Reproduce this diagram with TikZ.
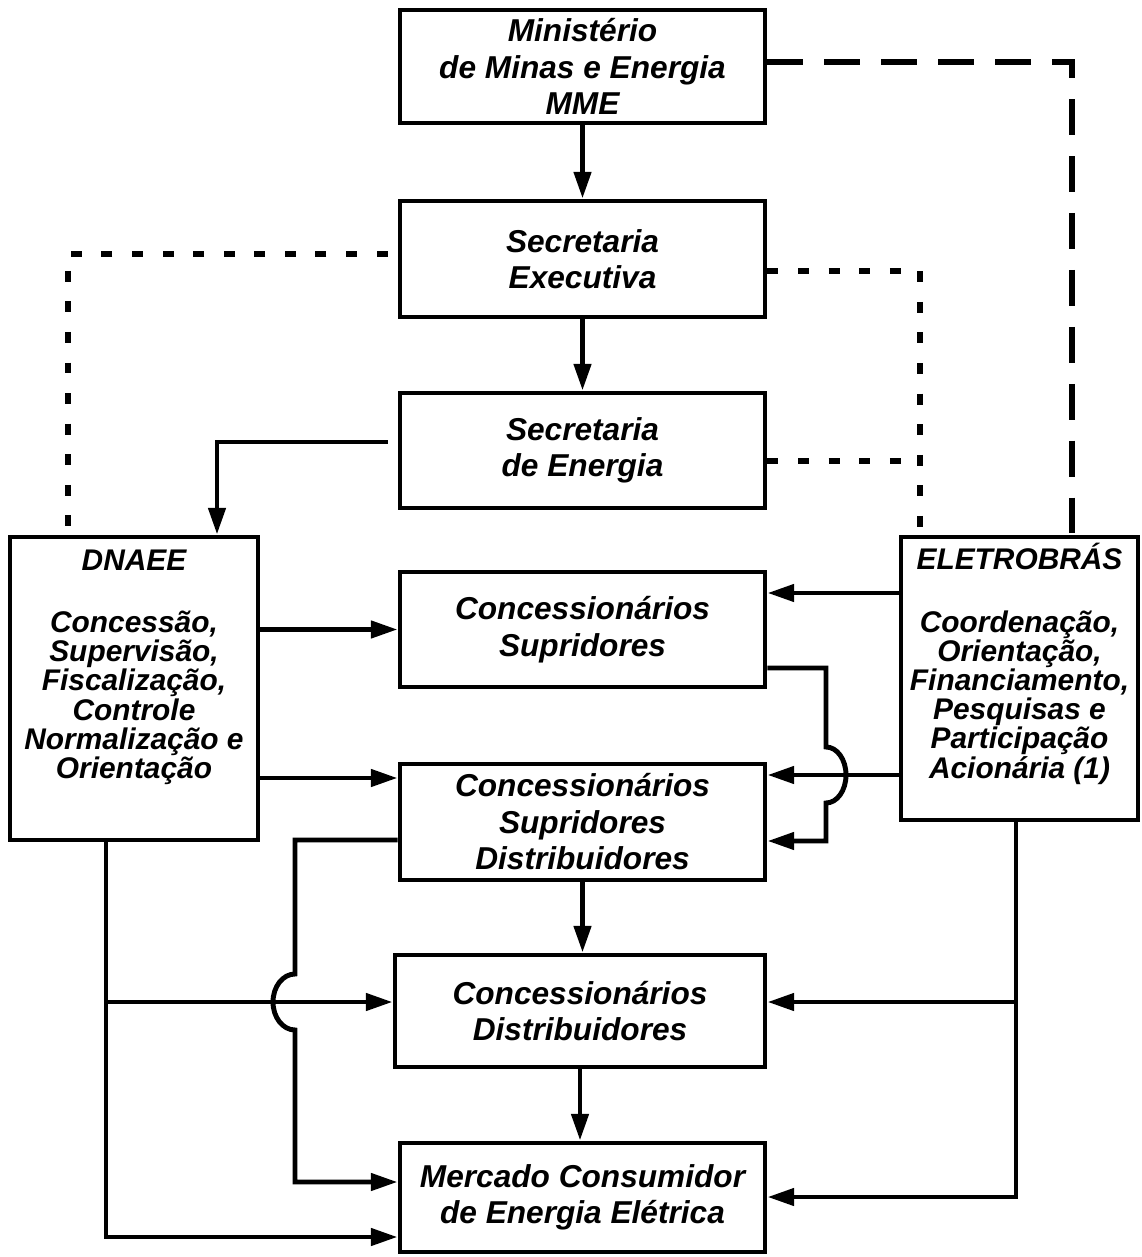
\documentclass[tikz,border=0pt]{standalone}
\usepackage{fontspec}
\setmainfont{Liberation Sans}
\usetikzlibrary{arrows.meta,positioning}

\tikzset{
  caixa/.style={draw, line width=1.4pt, minimum width=3.65cm, align=center, inner sep=0pt,
    font=\fontsize{9}{10.4}\selectfont\bfseries\itshape},
  lateral/.style={draw, line width=1.4pt, inner sep=0pt},
  textolat/.style={align=center, inner sep=0pt,
    font=\fontsize{8.5}{8.3}\selectfont\bfseries\itshape,
    execute at begin node={\lineskiplimit=-20pt\relax}},
  linha/.style={line width=1.4pt},
  seta/.style={line width=1.4pt, -{Triangle[length=7.6pt,width=4.8pt]}},
  pontilhado/.style={line width=1.9pt, dash pattern=on 3.1pt off 5.6pt},
  tracejado/.style={line width=1.9pt, dash pattern=on 10.2pt off 6pt},
}

\begin{document}
\begin{tikzpicture}
  \useasboundingbox (0,0) rectangle (11.41,-12.57);

  % caixas centrais
  \node[caixa, minimum height=1.13cm] (mme) at (5.825,-0.665) {Ministério\\de Minas e Energia\\MME};
  \node[caixa, minimum height=1.16cm] (secex) at (5.825,-2.59) {Secretaria\\Executiva};
  \node[caixa, minimum height=1.15cm] (secen) at (5.825,-4.505) {Secretaria\\de Energia};
  \node[caixa, minimum height=1.15cm] (consup) at (5.825,-6.295) {Concessionários\\Supridores};
  \node[caixa, minimum height=1.16cm] (consd) at (5.825,-8.22) {Concessionários\\Supridores\\Distribuidores};
  \node[caixa, minimum height=1.12cm, minimum width=3.70cm] (condist) at (5.80,-10.11) {Concessionários\\Distribuidores};
  \node[caixa, minimum height=1.09cm] (merc) at (5.825,-11.975) {Mercado Consumidor\\de Energia Elétrica};

  % caixas laterais
  \node[lateral, minimum width=2.48cm, minimum height=3.03cm] (dnaee) at (1.34,-6.885) {};
  \node[textolat, below=0.15cm of dnaee.north] (dnaeetxt)
    {DNAEE\\[9.3pt]Concessão,\\Supervisão,\\Fiscalização,\\Controle\\Normalização e\\Orientação};
  \node[lateral, minimum width=2.37cm, minimum height=2.83cm] (eletro) at (10.195,-6.785) {};
  \node[textolat, below=0.08cm of eletro.north] (eletrotxt)
    {ELETROBRÁS\\[9.5pt]Coordenação,\\Orientação,\\Financiamento,\\Pesquisas e\\Participação\\Acionária (1)};

  % ligacoes verticais
  \draw[seta] (mme.south) -- (mme.south |- secex.north);
  \draw[seta] (secex.south) -- (secex.south |- secen.north);
  \draw[seta] (consd.south) -- (consd.south |- condist.north);
  \draw[seta] (condist.south) -- (condist.south |- merc.north);

  % linhas de coordenacao
  \draw[tracejado] (mme.east |- 0,-0.62) -- (10.72,-0.62) -- (eletro.north -| 10.72,0);
  \draw[pontilhado] ([xshift=-1mm]secex.west |- 0,-2.54) -- (0.68,-2.54) -- (dnaee.north -| 0.68,0);
  \draw[pontilhado] (secex.east |- 0,-2.71) -- (9.20,-2.71) -- (eletro.north -| 9.20,0);
  \draw[pontilhado] (secen.east |- 0,-4.61) -- (9.20,-4.61);

  \draw[seta] ([xshift=-1mm]secen.west |- 0,-4.42) -- (2.17,-4.42) -- (dnaee.north -| 2.17,0);

  % DNAEE
  \draw[seta] (dnaee.east |- consup.west) -- (consup.west);
  \draw[seta] (dnaee.east |- 0,-7.78) -- (consd.west |- 0,-7.78);
  \coordinate (jesq) at (1.06,-10.02);
  \draw[seta] (dnaee.south -| jesq) -- (1.06,-12.37) -- (merc.west |- 0,-12.37);
  \draw[seta] (jesq) -- (condist.west |- jesq);

  % ELETROBRAS
  \draw[seta] (eletro.west |- 0,-5.93) -- (consup.east |- 0,-5.93);
  \draw[seta] (eletro.west |- 0,-7.75) -- (consd.east |- 0,-7.75);
  \coordinate (jdir) at (10.16,-10.02);
  \draw[seta] (eletro.south -| jdir) -- (10.16,-11.97) -- (merc.east |- 0,-11.97);
  \draw[seta] (jdir) -- (condist.east |- jdir);

  % saltos
  \draw[seta] (consup.east |- 0,-6.68) -- (8.26,-6.68) -- (8.26,-7.47)
    arc[start angle=90, end angle=-90, x radius=0.2, y radius=0.28] -- (8.26,-8.41) -- (consd.east |- 0,-8.41);
  \draw[seta] (consd.west |- 0,-8.40) -- (2.95,-8.40) -- (2.95,-9.74)
    arc[start angle=90, end angle=270, x radius=0.22, y radius=0.28] -- (2.95,-11.82) -- (merc.west |- 0,-11.82);
\end{tikzpicture}
\end{document}
